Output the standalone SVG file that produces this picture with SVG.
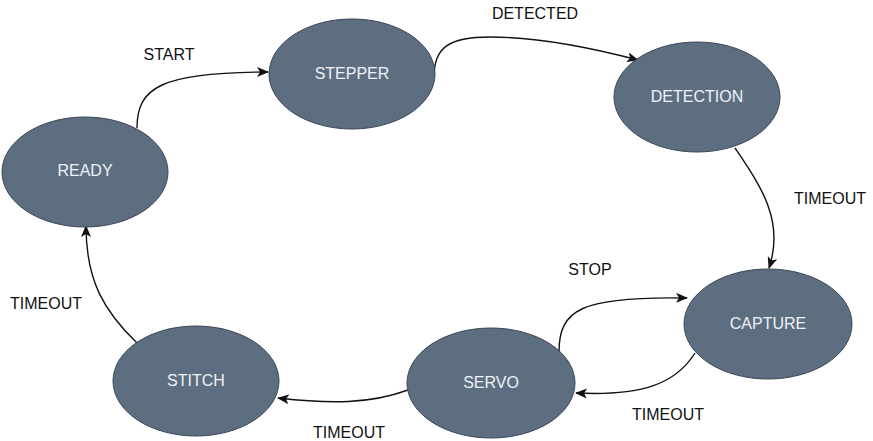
<svg xmlns="http://www.w3.org/2000/svg" width="873" height="441" viewBox="0 0 873 441">
<defs>
<style>
.node ellipse{fill:#5e6e81;stroke:#3a4656;stroke-width:1}
.node text{font-family:"Liberation Sans",Arial,sans-serif;font-size:16px;fill:#eef2f6;text-anchor:middle}
.edge path{fill:none;stroke:#111;stroke-width:1.4}
.lbl{font-family:"Liberation Sans",Arial,sans-serif;font-size:16px;fill:#111;text-anchor:middle}
</style>
<marker id="arr" viewBox="0 0 12 10" refX="11" refY="5" markerWidth="12" markerHeight="10" markerUnits="userSpaceOnUse" orient="auto">
<path d="M0,0 L12,5 L0,10 L3,5 z" fill="#111"/>
</marker>
</defs>
<rect width="873" height="441" fill="#ffffff"/>
<g id="connectors" class="edge">
<path d="M137,128 C137,88 160,72 268,72" marker-end="url(#arr)"/>
<path d="M434,77 C434,48 448,37 490,37 C545,37 600,50 638,60" marker-end="url(#arr)"/>
<path d="M735,148 C760,185 785,220 769,268" marker-end="url(#arr)"/>
<path d="M559,352 C559,310 580,296 687,298" marker-end="url(#arr)"/>
<path d="M695,353 C675,385 640,396 576,393" marker-end="url(#arr)"/>
<path d="M408,390 C370,404 330,404 278,398" marker-end="url(#arr)"/>
<path d="M137,343 C105,312 86,282 86,226" marker-end="url(#arr)"/>
</g>
<g id="labels">
<text class="lbl" x="169" y="60">START</text>
<text class="lbl" x="535" y="19">DETECTED</text>
<text class="lbl" x="830" y="204">TIMEOUT</text>
<text class="lbl" x="590" y="275">STOP</text>
<text class="lbl" x="668" y="420">TIMEOUT</text>
<text class="lbl" x="349" y="438">TIMEOUT</text>
<text class="lbl" x="46" y="309">TIMEOUT</text>
</g>
<g id="ready" class="node"><ellipse cx="85" cy="172" rx="83" ry="55"/><text x="85" y="176">READY</text></g>
<g id="stepper" class="node"><ellipse cx="352" cy="74" rx="83" ry="55"/><text x="352" y="79">STEPPER</text></g>
<g id="detection" class="node"><ellipse cx="697" cy="97" rx="83" ry="55"/><text x="697" y="102">DETECTION</text></g>
<g id="capture" class="node"><ellipse cx="768" cy="324" rx="84" ry="55"/><text x="768" y="329">CAPTURE</text></g>
<g id="servo" class="node"><ellipse cx="491" cy="383" rx="84" ry="55"/><text x="491" y="388">SERVO</text></g>
<g id="stitch" class="node"><ellipse cx="196" cy="381" rx="83" ry="55"/><text x="196" y="386">STITCH</text></g>
</svg>
